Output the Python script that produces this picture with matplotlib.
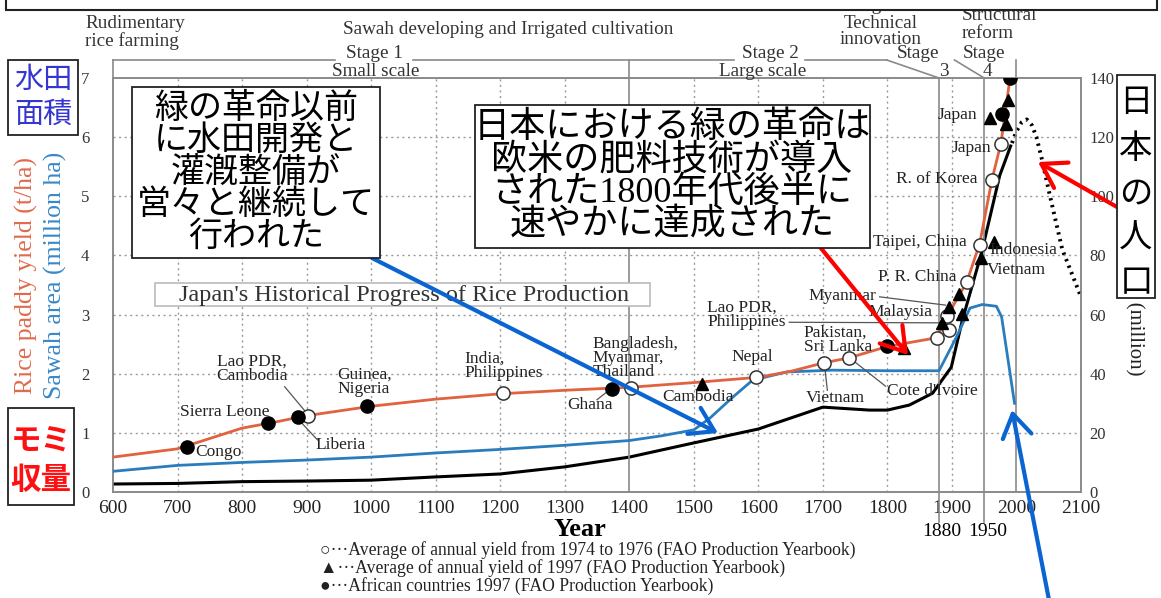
import matplotlib.pyplot as plt
from matplotlib.patches import Rectangle, FancyArrowPatch

W, H = 1161, 598
SERIF = ['Liberation Serif', 'DejaVu Serif']
JP = ['Noto Sans CJK JP', 'DejaVu Sans']
JP_NUM = ['Liberation Serif', 'Noto Sans CJK JP']
plt.rcParams['font.family'] = SERIF

ORANGE = '#e0623f'
BLUE = '#2a7dbd'
GRAY = '#8a8a8a'

# Japan: rice paddy yield (t/ha)
yield_years = [600, 700, 800, 850, 900, 1000, 1100, 1200, 1300, 1400, 1500, 1600, 1650,
               1700, 1741, 1800, 1877, 1893, 1923, 1943, 1962, 1976, 1990]
yield_vals = [0.59, 0.73, 1.08, 1.18, 1.29, 1.45, 1.57, 1.66, 1.72, 1.77, 1.85, 1.94, 2.04,
              2.18, 2.27, 2.46, 2.61, 2.98, 3.55, 4.2, 5.28, 5.9, 7.0]

# Japan: sawah area (million ha)
area_years = [600, 700, 800, 900, 1000, 1100, 1200, 1300, 1400, 1450, 1500, 1525, 1560,
              1591, 1644, 1715, 1800, 1880, 1907, 1928, 1947, 1969, 1977, 1997]
area_vals = [0.35, 0.45, 0.50, 0.54, 0.59, 0.66, 0.72, 0.79, 0.87, 0.95, 1.05, 1.25, 1.6,
             1.89, 2.03, 2.06, 2.05, 2.05, 2.62, 3.11, 3.17, 3.14, 2.96, 1.5]

# Japan: population (million), then projection
pop_years = [600, 700, 800, 900, 1000, 1100, 1200, 1300, 1400, 1500, 1600, 1700, 1772,
             1800, 1834, 1870, 1899, 1916, 1946, 1974, 1991]
pop_vals = [2.7, 2.9, 3.5, 3.7, 4.0, 5.1, 6.1, 8.5, 11.8, 16.6, 21.3, 28.7, 27.7,
            27.7, 29.4, 33.4, 42.2, 58, 81, 107, 117]
proj_years = [1993, 2000, 2008, 2016, 2024, 2031, 2040, 2051, 2071, 2100]
proj_vals = [118, 122, 125, 126, 124, 120, 112, 101, 82, 66]

# other countries placed on Japan's timeline
avg7476_years = [902, 1204, 1403, 1597, 1702, 1741, 1877, 1893, 1896, 1923, 1943, 1962, 1976]
avg7476_vals = [1.29, 1.68, 1.76, 1.95, 2.18, 2.27, 2.61, 2.98, 2.74, 3.55, 4.18, 5.28, 5.88]
y1997_years = [1512, 1826, 1885, 1895, 1911, 1916, 1945, 1965, 1959, 1984, 1987]
y1997_vals = [1.83, 2.44, 2.86, 3.13, 3.35, 3.01, 3.95, 4.22, 6.32, 6.22, 6.62]
africa_years = [715, 840, 886, 993, 1374, 1800, 1978, 1990]
africa_vals = [0.76, 1.16, 1.26, 1.45, 1.75, 2.47, 6.39, 7.0]

country_labels = [
    ('Congo', 727, 0.68, 'left'), ('Sierra Leone', 773, 1.35, 'center'),
    ('Lao PDR,\nCambodia', 815, 2.08, 'center'), ('Liberia', 914, 0.79, 'left'),
    ('Guinea,\nNigeria', 948, 1.86, 'left'), ('India,\nPhilippines', 1145, 2.13, 'left'),
    ('Bangladesh,\nMyanmar,\nThailand', 1343, 2.27, 'left'), ('Ghana', 1339, 1.47, 'center'),
    ('Cambodia', 1506, 1.61, 'center'), ('Nepal', 1590, 2.28, 'center'),
    ('Lao PDR,\nPhilippines', 1521, 2.99, 'left'), ('Pakistan,\nSri Lanka', 1670, 2.57, 'left'),
    ('Vietnam', 1720, 1.59, 'center'), ("Cote d'Ivoire", 1800, 1.71, 'left'),
    ('Myanmar', 1783, 3.31, 'right'), ('Malaysia', 1870, 3.04, 'right'),
    ('P. R. China', 1907, 3.64, 'right'), ('Taipei, China', 1923, 4.23, 'right'),
    ('Indonesia', 1958, 4.09, 'left'), ('Vietnam', 1954, 3.75, 'left'),
    ('R. of Korea', 1940, 5.29, 'right'), ('Japan', 1940, 6.37, 'right'),
    ('Japan', 1961, 5.82, 'right'),
]
leaders = [((866, 899), (1.78, 1.35)), ((917, 887), (0.88, 1.23)), ((1350, 1365), (1.56, 1.69)),
           ((1707, 1703), (1.72, 2.10)), ((1797, 1746), (1.79, 2.23)),
           ((1648, 1885), (2.87, 2.86)), ((1788, 1890), (3.30, 3.16))]


def fx(x):
    return x / W


def fy(y):
    return 1 - y / H


fig = plt.figure(figsize=(W / 100, H / 100), dpi=100)
ax2 = fig.add_axes([fx(113), fy(492), (1081 - 113) / W, (492 - 78) / H])
ax = ax2.twinx()
ax.yaxis.tick_left()
ax2.yaxis.tick_right()
ax.set_zorder(ax2.get_zorder() + 1)
ax.patch.set_visible(False)

ax.set_xlim(600, 2100)
ax.set_ylim(0, 7)
ax2.set_xlim(600, 2100)
ax2.set_ylim(0, 140)

# grid
for v in range(20, 121, 20):
    ax2.axhline(v, color='#9a9a9a', lw=1, ls=(0, (1.5, 2.5)), zorder=0)
for yr in range(700, 2001, 100):
    if yr not in (1400, 2000):
        ax2.axvline(yr, color='#9a9a9a', lw=1, ls=(0, (1.5, 2.5)), zorder=0)

# stage frame
xt = ax.get_xaxis_transform()
seg_kw = dict(color=GRAY, lw=1.2, transform=xt, clip_on=False)
top = (492 - 60) / 414
ax.plot([600, 944], [top, top], **seg_kw)
ax.plot([1065, 1563], [top, top], **seg_kw)
ax.plot([1673, 1799], [top, top], **seg_kw)
ax.plot([1799, 1880], [top, 1.0], **seg_kw)
ax.plot([1904, 1950], [top, 1.0], **seg_kw)
ax.plot([600, 600], [1.0, top], **seg_kw)
ax.plot([1400, 1400], [0, top], **seg_kw)
ax.plot([2000, 2000], [0, top], **seg_kw)
ax.plot([1880, 1880], [-0.0725, 1.0], **seg_kw)
ax.plot([1950, 1950], [-0.0725, 1.0], **seg_kw)

# series
ax2.plot(pop_years, pop_vals, color='black', lw=2.2, zorder=3)
ax2.plot(proj_years, proj_vals, color='black', lw=2.8, ls=(0, (0.6, 1.2)), zorder=3)
ax.plot(area_years, area_vals, color=BLUE, lw=2.0, zorder=3)
ax.plot(yield_years, yield_vals, color=ORANGE, lw=2.0, zorder=4)

for (xs, ys) in leaders:
    ax.plot(xs, ys, color='#555555', lw=0.9, zorder=3)

ax.plot(avg7476_years, avg7476_vals, 'o', ms=9.5, mfc='white', mec='#333333', mew=1.1, zorder=5)
ax.plot(y1997_years, y1997_vals, '^', ms=9, color='black', zorder=6)
ax.plot(africa_years, africa_vals, 'o', ms=9.5, color='black', zorder=6)

for txt, xv, yv, ha in country_labels:
    ax.text(xv, yv, txt, ha=ha, va='center', fontsize=12.5, linespacing=0.85, color='#222222', zorder=7)

# axes styling
for a in (ax, ax2):
    for s in a.spines.values():
        s.set_color(GRAY)
        s.set_linewidth(1.2)
ax2.set_xticks(range(600, 2101, 100))
ax.set_yticks(range(0, 8))
ax2.set_yticks(range(0, 141, 20))
ax.tick_params(axis='y', length=0, pad=17, labelsize=12, labelcolor='#333333')
ax.tick_params(axis='x', length=0, labelbottom=False)
ax2.tick_params(axis='y', length=0, pad=6, labelsize=12, labelcolor='#333333')
ax2.tick_params(axis='x', length=0, pad=6, labelsize=14, labelbottom=True, labelcolor='#222222')

fig.text(fx(942), fy(532), '1880', ha='center', va='center', fontsize=14)
fig.text(fx(988), fy(532), '1950', ha='center', va='center', fontsize=14)
fig.text(fx(580), fy(529), 'Year', ha='center', va='center', fontsize=19, fontweight='bold')

# header texts
hdr = dict(fontsize=13.8, color='#333333', va='center')
fig.text(fx(85), fy(23), 'Rudimentary', ha='left', **hdr)
fig.text(fx(85), fy(41), 'rice farming', ha='left', **hdr)
fig.text(fx(508), fy(30), 'Sawah developing and Irrigated cultivation', ha='center', **hdr)
fig.text(fx(881), fy(6), 'Integrated', ha='center', **hdr)
fig.text(fx(881), fy(23), 'Technical', ha='center', **hdr)
fig.text(fx(881), fy(40), 'innovation', ha='center', **hdr)
fig.text(fx(962), fy(16), 'Structural', ha='left', **hdr)
fig.text(fx(962), fy(33), 'reform', ha='left', **hdr)
fig.text(fx(374), fy(54), 'Stage 1', ha='center', **hdr)
fig.text(fx(376), fy(71), 'Small scale', ha='center', **hdr)
fig.text(fx(770), fy(53), 'Stage 2', ha='center', **hdr)
fig.text(fx(763), fy(71), 'Large scale', ha='center', **hdr)
fig.text(fx(918), fy(54), 'Stage', ha='center', **hdr)
fig.text(fx(944), fy(71), '3', ha='center', **hdr)
fig.text(fx(984), fy(54), 'Stage', ha='center', **hdr)
fig.text(fx(987), fy(71), '4', ha='center', **hdr)

fig.add_artist(Rectangle((fx(6), fy(10)), fx(1151), 0.1, transform=fig.transFigure,
                         facecolor='white', edgecolor='#222222', lw=1.5, zorder=10))

# axis titles
fig.text(fx(26), fy(275), 'Rice paddy yield (t/ha)', rotation=90, ha='center', va='center',
         fontsize=18.5, color='#e06a4c')
fig.text(fx(55), fy(275), 'Sawah area (million ha)', rotation=90, ha='center', va='center',
         fontsize=18.5, color='#3a88c8')
fig.text(fx(1135), fy(375), 'Population (million)', rotation=-90, rotation_mode='anchor',
         ha='right', va='center', fontsize=15, color='#222222')

# chart title box
fig.add_artist(Rectangle((fx(155), fy(306)), fx(495), (306 - 283) / H, transform=fig.transFigure,
                         facecolor='white', edgecolor='#bbbbbb', lw=1.2, zorder=1.5))
fig.text(fx(404), fy(295), "Japan's Historical Progress of Rice Production", ha='center',
         va='center', fontsize=17.5, color='#333333', zorder=1.6)

# legend
leg = dict(ha='left', va='center', fontsize=12.7, color='#222222', family=['Liberation Serif', 'DejaVu Sans'])
fig.text(fx(320), fy(550), '○···Average of annual yield from 1974 to 1976 (FAO Production Yearbook)', **leg)
fig.text(fx(320), fy(568), '▲···Average of annual yield of 1997 (FAO Production Yearbook)', **leg)
fig.text(fx(320), fy(586), '●···African countries 1997 (FAO Production Yearbook)', **leg)


# Japanese note boxes
def box(x0, y0, x1, y1):
    fig.add_artist(Rectangle((fx(x0), fy(y1)), fx(x1 - x0), (y1 - y0) / H, transform=fig.transFigure,
                             facecolor='white', edgecolor='#222222', lw=1.3, zorder=4))


box(8, 60, 78, 135)
for t, yy in (('水田', 80), ('面積', 115)):
    fig.text(fx(43), fy(yy), t, ha='center', va='center', fontsize=21, color='#3535d0', family=JP, zorder=5)
box(8, 408, 74, 505)
for t, yy in (('モミ', 442), ('収量', 480)):
    fig.text(fx(41), fy(yy), t, ha='center', va='center', fontsize=22, color='#ff1010',
             fontweight='bold', family=JP, zorder=5)

box(132, 87, 380, 258)
for t, yy in zip(['緑の革命以前', 'に水田開発と', '灌漑整備が', '営々と継続して', '行われた'],
                 [108, 140, 172, 204, 236]):
    fig.text(fx(256), fy(yy), t, ha='center', va='center', fontsize=24.5, family=JP, zorder=5)

box(475, 105, 870, 248)
for t, yy in zip(['日本における緑の革命は', '欧米の肥料技術が導入', 'された1800年代後半に', '速やかに達成された'],
                 [128, 161, 193, 225]):
    fig.text(fx(672), fy(yy), t, ha='center', va='center', fontsize=26, family=JP_NUM, zorder=5)

box(1117, 75, 1155, 298)
for t, yy in zip('日本の人口', [103, 148, 193, 238, 283]):
    fig.text(fx(1136), fy(yy), t, ha='center', va='center', fontsize=24, family=JP, zorder=5)


# arrows
def arrow(x0, y0, x1, y1, color):
    fig.add_artist(FancyArrowPatch((fx(x0), fy(y0)), (fx(x1), fy(y1)), transform=fig.transFigure,
                                   arrowstyle='->,head_length=0.55,head_width=0.35', mutation_scale=30,
                                   color=color, lw=3, shrinkA=0, shrinkB=0, zorder=3))


arrow(372, 258, 718, 433, '#0a64d2')
arrow(820, 247, 908, 355, '#ff0000')
arrow(1117, 207, 1038, 162, '#ff0000')
arrow(1050, 605, 1012, 410, '#0a64d2')

fig.savefig('out.png', dpi=100)
